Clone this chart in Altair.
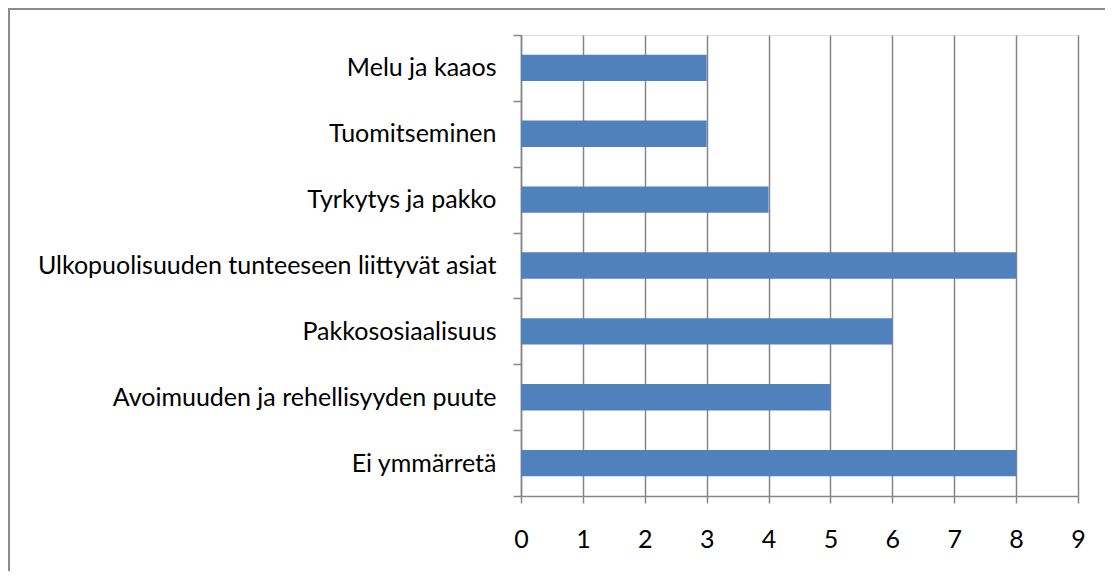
import altair as alt
import pandas as pd

categories = [
    "Melu ja kaaos",
    "Tuomitseminen",
    "Tyrkytys ja pakko",
    "Ulkopuolisuuden tunteeseen liittyvät asiat",
    "Pakkososiaalisuus",
    "Avoimuuden ja rehellisyyden puute",
    "Ei ymmärretä",
]
values = [3, 3, 4, 8, 6, 5, 8]
x_ticks = [0, 1, 2, 3, 4, 5, 6, 7, 8, 9]

df = pd.DataFrame({"cat": categories, "val": values})

FONT = "Lato"
FS = 25
GRAY = "#868686"
W, H = 557, 461
PAD_L, PAD_T = 513, 27
TOTAL_W, TOTAL_H = 1097, 563

bars = alt.Chart(df).mark_bar(color="#4F81BD", height={"band": 0.4}).encode(
    x=alt.X("val:Q",
            scale=alt.Scale(domain=[0, 9], nice=False),
            axis=alt.Axis(values=x_ticks, title=None, grid=True, gridColor=GRAY,
                          gridWidth=1.5, domainColor=GRAY, domainWidth=1.5,
                          tickColor=GRAY, tickWidth=1.5, tickSize=7,
                          labelFont=FONT, labelFontSize=FS, labelColor="#000000",
                          labelPadding=24, labelFlush=False)),
    y=alt.Y("cat:N", sort=categories,
            scale=alt.Scale(paddingInner=0, paddingOuter=0),
            axis=alt.Axis(title=None, tickBand="extent", domainColor=GRAY,
                          domainWidth=1.5, tickColor=GRAY, tickWidth=1.5,
                          tickSize=8, labelFont=FONT, labelFontSize=FS,
                          labelColor="#000000", labelPadding=17, labelLimit=700)),
)

border_df = pd.DataFrame({"a": [0]})
left_border = alt.Chart(border_df).mark_rule(color="#8c8c8c", strokeWidth=2).encode(
    x=alt.value(-PAD_L + 1), y=alt.value(-PAD_T), y2=alt.value(TOTAL_H - PAD_T)
)
top_border = alt.Chart(border_df).mark_rule(color="#8c8c8c", strokeWidth=2).encode(
    x=alt.value(-PAD_L), x2=alt.value(TOTAL_W - PAD_L), y=alt.value(-PAD_T + 1)
)

chart = alt.layer(bars, left_border, top_border).properties(
    width=W, height=H,
    autosize=alt.AutoSizeParams(type="none"),
    padding={"left": PAD_L, "top": PAD_T, "right": TOTAL_W - PAD_L - W,
             "bottom": TOTAL_H - PAD_T - H},
).configure_view(stroke=None).configure(background="white")

chart.save("out.html", embed_options={"renderer": "svg", "actions": False})
